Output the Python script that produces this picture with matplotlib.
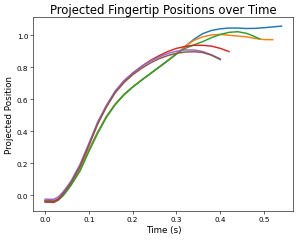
import matplotlib
matplotlib.use("Agg")
import matplotlib.pyplot as plt

t_blue = [0.00, 0.01, 0.02, 0.03, 0.04, 0.05, 0.06, 0.08, 0.10, 0.12, 0.14, 0.16, 0.18, 0.20, 0.22, 0.24, 0.26,
          0.28, 0.30, 0.32, 0.34, 0.36, 0.38, 0.40, 0.42, 0.44, 0.46, 0.48, 0.50, 0.52, 0.54]
y_blue = [-0.033, -0.034, -0.035, -0.024, 0.000, 0.035, 0.074, 0.163, 0.285, 0.395, 0.493, 0.570, 0.630, 0.677,
          0.719, 0.759, 0.799, 0.840, 0.882, 0.930, 0.975, 1.010, 1.030, 1.040, 1.045, 1.045, 1.042, 1.043,
          1.047, 1.052, 1.057]

t_orange = [0.00, 0.01, 0.02, 0.03, 0.04, 0.05, 0.06, 0.08, 0.10, 0.12, 0.14, 0.16, 0.18, 0.20, 0.22, 0.24,
            0.26, 0.28, 0.30, 0.32, 0.34, 0.36, 0.38, 0.40, 0.42, 0.44, 0.46, 0.48, 0.50, 0.52]
y_orange = [-0.037, -0.038, -0.039, -0.027, -0.002, 0.033, 0.072, 0.160, 0.282, 0.393, 0.491, 0.569, 0.629,
            0.677, 0.719, 0.759, 0.800, 0.841, 0.884, 0.932, 0.968, 0.990, 1.002, 1.005, 1.000, 0.995, 0.990,
            0.980, 0.973, 0.972]

t_green = [0.00, 0.01, 0.02, 0.03, 0.04, 0.05, 0.06, 0.08, 0.10, 0.12, 0.14, 0.16, 0.18, 0.20, 0.22, 0.24,
           0.26, 0.28, 0.30, 0.32, 0.34, 0.36, 0.38, 0.40, 0.42, 0.44, 0.46, 0.48, 0.49]
y_green = [-0.038, -0.039, -0.040, -0.030, -0.006, 0.028, 0.066, 0.153, 0.274, 0.387, 0.487, 0.566, 0.627,
           0.676, 0.719, 0.760, 0.801, 0.842, 0.884, 0.918, 0.940, 0.960, 0.985, 1.005, 1.018, 1.022, 1.012,
           0.990, 0.977]

t_red = [0.00, 0.01, 0.02, 0.03, 0.04, 0.05, 0.06, 0.08, 0.10, 0.12, 0.14, 0.16, 0.18, 0.20, 0.22, 0.24, 0.26,
         0.28, 0.30, 0.32, 0.34, 0.36, 0.38, 0.40, 0.42]
y_red = [-0.038, -0.039, -0.040, -0.022, 0.010, 0.046, 0.086, 0.186, 0.315, 0.450, 0.556, 0.646, 0.712, 0.762,
         0.805, 0.842, 0.872, 0.898, 0.918, 0.930, 0.937, 0.937, 0.932, 0.918, 0.898]

t_purple = [0.00, 0.01, 0.02, 0.03, 0.04, 0.05, 0.06, 0.08, 0.10, 0.12, 0.14, 0.16, 0.18, 0.20, 0.22, 0.24,
            0.26, 0.28, 0.30, 0.32, 0.34, 0.36, 0.38, 0.40]
y_purple = [-0.024, -0.025, -0.025, -0.010, 0.018, 0.053, 0.093, 0.195, 0.325, 0.458, 0.563, 0.652, 0.716,
            0.765, 0.805, 0.838, 0.864, 0.886, 0.900, 0.908, 0.908, 0.898, 0.878, 0.852]

t_brown = [0.00, 0.01, 0.02, 0.03, 0.04, 0.05, 0.06, 0.08, 0.10, 0.12, 0.14, 0.16, 0.18, 0.20, 0.22, 0.24,
           0.26, 0.28, 0.30, 0.32, 0.34, 0.36, 0.38, 0.40]
y_brown = [-0.043, -0.044, -0.045, -0.030, 0.004, 0.042, 0.082, 0.182, 0.312, 0.445, 0.552, 0.640, 0.704,
           0.753, 0.793, 0.826, 0.853, 0.873, 0.887, 0.895, 0.897, 0.892, 0.875, 0.848]

series = [
    (t_blue, y_blue),
    (t_orange, y_orange),
    (t_green, y_green),
    (t_red, y_red),
    (t_purple, y_purple),
    (t_brown, y_brown),
]

dpi = 52.5
fig = plt.figure(figsize=(299 / dpi, 242 / dpi), dpi=dpi)
ax = fig.add_axes([0.1115, 0.1227, 0.8696, 0.8017])
for t, y in series:
    ax.plot(t, y, linewidth=2)

ax.set_title("Projected Fingertip Positions over Time", fontsize=16)
ax.set_xlabel("Time (s)", fontsize=12)
ax.set_ylabel("Projected Position", fontsize=12)
ax.tick_params(labelsize=10)
fig.savefig("out.png", dpi=dpi)
